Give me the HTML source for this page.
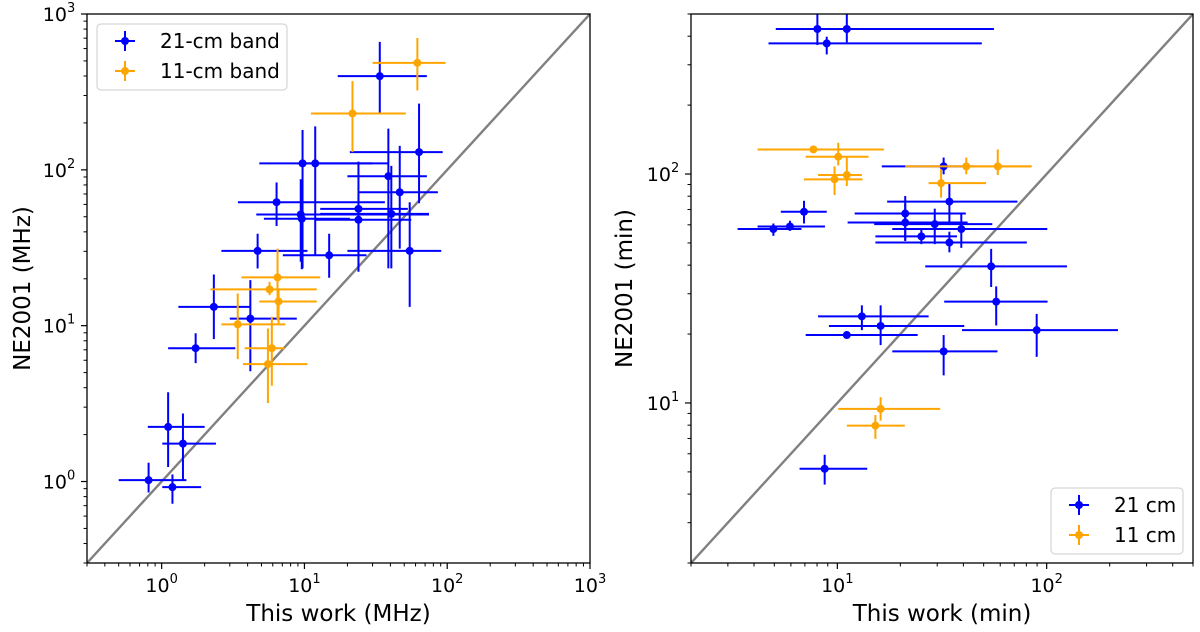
<!DOCTYPE html>
<html><head><meta charset="utf-8"><style>
html,body{margin:0;padding:0;background:#fff;}
svg{display:block;font-family:"DejaVu Sans","Liberation Sans",sans-serif;}
</style></head><body>
<svg id="fig" width="1200" height="632" viewBox="0 0 1200 632" xmlns="http://www.w3.org/2000/svg"></svg>
<script>
// ---------- Left panel data (MHz) ----------
const L21x   = [33.7,63.5,9.7,11.9,38.7,46.5,6.38,9.42,9.58,23.9,23.9,40.6,4.7,14.9,54.6,2.32,4.18,1.73,1.11,1.41,0.81,1.19];
const L21xlo = [17.1,20.8,4.83,9,20,24.2,3.42,4.6,5.2,12.9,11.9,12.9,2.62,7.06,20,1.31,3.0,1.11,0.80,1.01,0.50,1.01];
const L21xhi = [72,93,38.6,30,72,86,36.6,74.5,20.8,53,56,74.5,10.5,27.2,90.8,4.18,8.84,3.28,2.0,2.4,1.49,1.89];
const L21y   = [399,130,110,110,91,71.8,62,51.7,48.5,56.2,47.8,52.2,30.2,28.3,30.2,13.2,11.1,7.17,2.24,1.75,1.02,0.92];
const L21ylo = [233,61,23.3,28.3,23.3,31.2,43.6,25.7,23,22.2,22.6,23.3,23.3,20.3,13.2,8.2,5.1,5.75,1.24,1.03,0.85,0.72];
const L21yhi = [662,266,180,190,184,142.6,83,87,85,113,70,106,38.9,38.9,62,21.3,19.6,8.94,3.74,2.73,1.32,1.11];
const L11x   = [61.8,21.7,6.48,5.7,6.59,3.41,5.91,5.55];
const L11xlo = [30,11.1,3.62,2.2,4.83,2.62,3.81,3.71];
const L11xhi = [97.5,51.3,12.9,12.2,12.2,7.33,7.25,10.5];
const L11y   = [486,230,20.4,17.1,14.3,10.2,7.17,5.67];
const L11ylo = [323,130,10.8,15.7,10.1,6.1,4.12,3.19];
const L11yhi = [702,371,31.2,19.1,17,16.1,11.4,9.6];
// ---------- Right panel data (min) ----------
const R21x   = [8.03,11.1,8.9,32.2,34.3,21.1,21.1,29.2,39.1,25.2,34.3,6.93,5.94,4.95,54.3,57.4,13.1,16.1,11.1,89.6,32.2,8.7];
const R21xlo = [5.08,6,4.69,16.3,17.3,12.1,11.2,15,18.3,15.2,15.2,5.37,4.16,3.34,26.3,32.4,8.09,9.12,7.06,39.4,18.3,6.6];
const R21xhi = [56,40,49,45,72.5,41.1,41.9,55,100.7,37.3,80.4,8.9,8.73,6.74,125,101,27.3,40.4,24.2,219,58.2,13.9];
const R21y   = [430,430,372,108,75.8,67.2,61.4,60.4,57.5,53.4,50.2,68.4,59,57.5,39.5,27.7,23.9,21.7,19.8,20.8,16.8,5.16];
const R21ylo = [366,376,333,99.7,61.4,51.2,51,49.4,47.6,49.4,45.5,60.8,56.5,53.7,32.1,21.8,20.8,17.9,19.2,15.9,13.2,4.4];
const R21yhi = [520,520,398,118,91.7,80.2,74,70.6,66.8,57.7,56,76.4,62.5,60.8,47.1,32.3,26.7,26.7,20.5,24.5,19.8,5.94];
const R11x   = [7.69,10.1,11.1,9.7,41.3,58.4,31.3,16.1,15.2];
const R11xlo = [4.16,7.06,8.09,6.93,21.1,41,27.3,10.1,11.1];
const R11xhi = [16.7,14.1,13.1,13.2,84.9,84,51.3,31,21];
const R11y   = [128,119,99,94.8,108,108,91.2,9.42,7.96];
const R11ylo = [128,109,88.7,81,99.7,99,78.9,8.37,6.97];
const R11yhi = [128,137,118,108,118,128,105,10.6,8.85];

const NS="http://www.w3.org/2000/svg";
const svg=document.getElementById('fig');
function mk(tag,attrs,parent){const e=document.createElementNS(NS,tag);for(const k in attrs)e.setAttribute(k,attrs[k]);(parent||svg).appendChild(e);return e;}

function panel(P){
  const g=mk('g',{});
  
  
  const lmin=Math.log10(P.min), lmax=Math.log10(P.max);
  const sx=v=>P.x0+(Math.log10(v)-lmin)/(lmax-lmin)*(P.x1-P.x0);
  const sy=v=>P.y1-(Math.log10(v)-lmin)/(lmax-lmin)*(P.y1-P.y0);
  const clip='clip-'+P.name;
  const cp=mk('clipPath',{id:clip},g);
  mk('rect',{x:P.x0,y:P.y0,width:P.x1-P.x0,height:P.y1-P.y0},cp);
  const plot=mk('g',{'clip-path':'url(#'+clip+')'},g);
  const d=mk('line',{x1:sx(P.min),y1:sy(P.min),x2:sx(P.max),y2:sy(P.max),stroke:'#808080','stroke-width':2.4},plot);
  
  
  P.series.forEach(S=>{
    const sg=mk('g',{},plot);
    
    
    for(let i=0;i<S.x.length;i++){
      const pg=mk('g',{},sg);
      
      
      const cx=sx(S.x[i]), cy=sy(S.y[i]);
      mk('line',{x1:sx(S.xlo[i]),y1:cy,x2:sx(S.xhi[i]),y2:cy,stroke:S.color,'stroke-width':2},pg);
      mk('line',{x1:cx,y1:sy(S.ylo[i]),x2:cx,y2:sy(S.yhi[i]),stroke:S.color,'stroke-width':2},pg);
      mk('circle',{cx:cx,cy:cy,r:4,fill:S.color},pg);
    }
  });
  const fr=mk('rect',{x:P.x0,y:P.y0,width:P.x1-P.x0,height:P.y1-P.y0,fill:'none',stroke:'#000','stroke-width':1.3},g);
  
  
  const ax=mk('g',{},g);
  
  
  for(let e=Math.floor(lmin);e<=Math.ceil(lmax);e++){
    for(let m=1;m<10;m++){
      const v=m*Math.pow(10,e);
      if(v<P.min*0.999||v>P.max*1.001)continue;
      const len=m===1?6:3.5, w=m===1?1.2:1;
      const X=sx(v), Y=sy(v);
      mk('line',{x1:X,y1:P.y1,x2:X,y2:P.y1+len,stroke:'#000','stroke-width':w},ax);
      mk('line',{x1:P.x0,y1:Y,x2:P.x0-len,y2:Y,stroke:'#000','stroke-width':w},ax);
      if(m===1){
        const tx=mk('text',{x:X,y:P.y1+29,'text-anchor':'middle','font-size':19,fill:'#000'},ax);
        
        
        tx.innerHTML='10<tspan dy="-9" font-size="13">'+e+'</tspan>';
        const ty=mk('text',{x:P.x0-28,y:Y+7,'text-anchor':'middle','font-size':19,fill:'#000'},ax);
        
        
        ty.innerHTML='10<tspan dy="-9" font-size="13">'+e+'</tspan>';
      }
    }
  }
  const xl=mk('text',{x:(P.x0+P.x1)/2,y:621,'text-anchor':'middle','font-size':23,fill:'#000'},g);
  
  
  xl.textContent=P.xlabel;
  const yc=(P.y0+P.y1)/2;
  const yl=mk('text',{x:P.ylx,y:yc,'text-anchor':'middle','font-size':23,fill:'#000',transform:'rotate(-90 '+P.ylx+' '+yc+')'},g);
  
  
  yl.textContent=P.ylabel;
  const lg=mk('g',{},g);
  
  
  const L=P.legend;
  mk('rect',{x:L.x,y:L.y,width:L.w,height:66,rx:4,fill:'#fff','fill-opacity':0.85,stroke:'#ccc','stroke-width':1},lg);
  P.series.forEach((S,i)=>{
    const eg=mk('g',{},lg);
    
    
    const cy=L.y+17+i*30, cx=L.x+28;
    mk('line',{x1:cx-10,y1:cy,x2:cx+10,y2:cy,stroke:S.color,'stroke-width':2},eg);
    mk('line',{x1:cx,y1:cy-10,x2:cx,y2:cy+10,stroke:S.color,'stroke-width':2},eg);
    mk('circle',{cx:cx,cy:cy,r:4,fill:S.color},eg);
    const t=mk('text',{x:L.x+63,y:cy+7,'font-size':20,fill:'#000'},eg);
    t.textContent=S.label;
  });
}

panel({name:'left-panel',x0:87,x1:590,y0:14,y1:563,min:0.3,max:1000,
  xlabel:'This work (MHz)',ylabel:'NE2001 (MHz)',ylx:30,
  legend:{x:97,y:24,w:190},
  series:[
    {name:'series-21cm-band',label:'21-cm band',color:'#0000ff',x:L21x,xlo:L21xlo,xhi:L21xhi,y:L21y,ylo:L21ylo,yhi:L21yhi},
    {name:'series-11cm-band',label:'11-cm band',color:'#ffa500',x:L11x,xlo:L11xlo,xhi:L11xhi,y:L11y,ylo:L11ylo,yhi:L11yhi}
  ]});
panel({name:'right-panel',x0:691,x1:1193,y0:14,y1:563,min:2,max:500,
  xlabel:'This work (min)',ylabel:'NE2001 (min)',ylx:632,
  legend:{x:1051,y:488,w:132},
  series:[
    {name:'series-21cm',label:'21 cm',color:'#0000ff',x:R21x,xlo:R21xlo,xhi:R21xhi,y:R21y,ylo:R21ylo,yhi:R21yhi},
    {name:'series-11cm',label:'11 cm',color:'#ffa500',x:R11x,xlo:R11xlo,xhi:R11xhi,y:R11y,ylo:R11ylo,yhi:R11yhi}
  ]});
</script>
</body></html>
